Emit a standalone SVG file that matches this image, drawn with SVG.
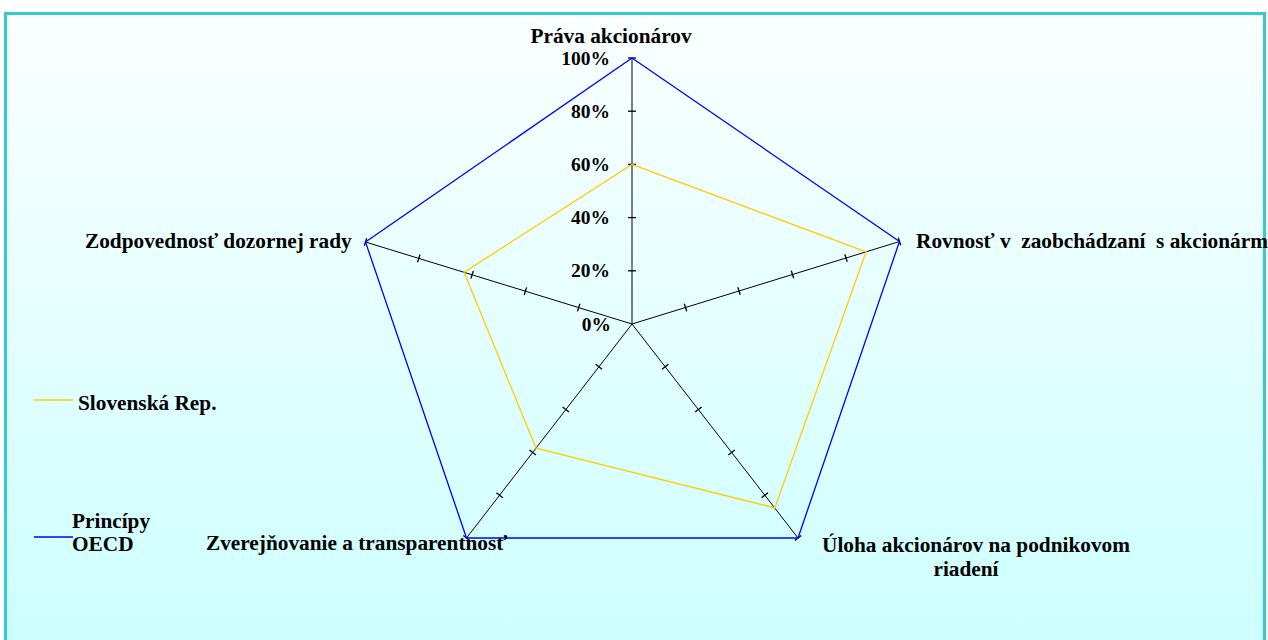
<svg xmlns="http://www.w3.org/2000/svg" width="1268" height="640" viewBox="0 0 1268 640">
<defs>
<linearGradient id="bg" x1="0" y1="0" x2="0" y2="1">
<stop offset="0" stop-color="#FBFFFF"/>
<stop offset="1" stop-color="#CCFFFF"/>
</linearGradient>
<style>
.t{font-family:"Liberation Serif","Times New Roman",serif;font-weight:bold;font-size:21.3px;fill:#000;white-space:pre}
.p{font-family:"Liberation Serif","Times New Roman",serif;font-weight:bold;font-size:19.5px;fill:#000}
.axis{stroke:#000;stroke-width:1;fill:none}
.tick{stroke:#000;stroke-width:1.3}
.oecd{stroke:#0000FF;stroke-width:1.3;fill:none}
.svk{stroke:#FFCC00;stroke-width:1.3;fill:none}
</style>
</defs>
<rect x="0" y="0" width="1268" height="640" fill="#FFFFFF"/>
<rect x="5.5" y="13.5" width="1259" height="640" fill="url(#bg)" stroke="#33CCCC" stroke-width="3"/>

<g id="connectors">
<g id="axes" class="axis">
<line x1="632" y1="324" x2="632" y2="58"/>
<line x1="632" y1="324" x2="899.5" y2="241.5"/>
<line x1="632" y1="324" x2="798" y2="538"/>
<line x1="632" y1="324" x2="466.5" y2="538"/>
<line x1="632" y1="324" x2="365.5" y2="242"/>
</g>
<g id="ticks" class="tick">
<line x1="628" y1="270.8" x2="636" y2="270.8"/>
<line x1="628" y1="217.6" x2="636" y2="217.6"/>
<line x1="628" y1="164.4" x2="636" y2="164.4"/>
<line x1="628" y1="111.2" x2="636" y2="111.2"/>
<line x1="628" y1="58" x2="636" y2="58"/>
<line x1="684.3" y1="303.7" x2="686.7" y2="311.3"/>
<line x1="737.8" y1="287.2" x2="740.2" y2="294.8"/>
<line x1="791.3" y1="270.7" x2="793.7" y2="278.3"/>
<line x1="844.8" y1="254.2" x2="847.2" y2="261.8"/>
<line x1="898.3" y1="237.7" x2="900.7" y2="245.3"/>
<line x1="662" y1="369.3" x2="668.4" y2="364.3"/>
<line x1="695.2" y1="412.1" x2="701.6" y2="407.1"/>
<line x1="728.4" y1="454.9" x2="734.8" y2="449.9"/>
<line x1="761.6" y1="497.7" x2="768" y2="492.7"/>
<line x1="794.8" y1="540.5" x2="801.2" y2="535.5"/>
<line x1="595.7" y1="364.3" x2="602.1" y2="369.3"/>
<line x1="562.6" y1="407.1" x2="569" y2="412.1"/>
<line x1="529.5" y1="449.9" x2="535.9" y2="454.9"/>
<line x1="496.4" y1="492.7" x2="502.8" y2="497.7"/>
<line x1="463.3" y1="535.5" x2="469.7" y2="540.5"/>
<line x1="577.5" y1="311.4" x2="579.9" y2="303.8"/>
<line x1="524.2" y1="295" x2="526.6" y2="287.4"/>
<line x1="470.9" y1="278.6" x2="473.3" y2="271"/>
<line x1="417.6" y1="262.2" x2="420" y2="254.6"/>
<line x1="364.3" y1="245.8" x2="366.7" y2="238.2"/>
</g>
</g>

<g id="series">
<polygon id="series-oecd" class="oecd" points="632,58 899.5,241.5 798,538 466.5,538 365.5,242"/>
<polygon id="series-svk" class="svk" points="632,164.4 866.1,251.8 774.8,508 536,448.1 464.1,272.3"/>
</g>

<g id="scale-labels" class="p" text-anchor="end">
<text x="610" y="65">100%</text>
<text x="610" y="118">80%</text>
<text x="610" y="171">60%</text>
<text x="610" y="224">40%</text>
<text x="610" y="277">20%</text>
<text x="611" y="331">0%</text>
</g>

<g id="node-prava"><text class="t" x="611" y="43" text-anchor="middle">Práva akcionárov</text></g>
<g id="node-rovnost"><text class="t" x="916" y="248">Rovnosť v  zaobchádzaní  s akcionárm</text></g>
<g id="node-uloha">
<text class="t" x="976" y="552" text-anchor="middle">Úloha akcionárov na podnikovom</text>
<text class="t" x="966" y="576" text-anchor="middle">riadení</text>
</g>
<g id="node-zverejnovanie"><text class="t" x="206" y="550">Zverejňovanie a transparentnosť</text></g>
<g id="node-zodpovednost"><text class="t" x="85" y="248">Zodpovednosť dozornej rady</text></g>

<g id="legend">
<g id="legend-svk">
<line x1="34" y1="400" x2="73" y2="400" class="svk"/>
<text class="t" x="78" y="410">Slovenská Rep.</text>
</g>
<g id="legend-oecd">
<line x1="34" y1="537" x2="73" y2="537" class="oecd"/>
<text class="t" x="72" y="528">Princípy</text>
<text class="t" x="72" y="551">OECD</text>
</g>
</g>
</svg>
